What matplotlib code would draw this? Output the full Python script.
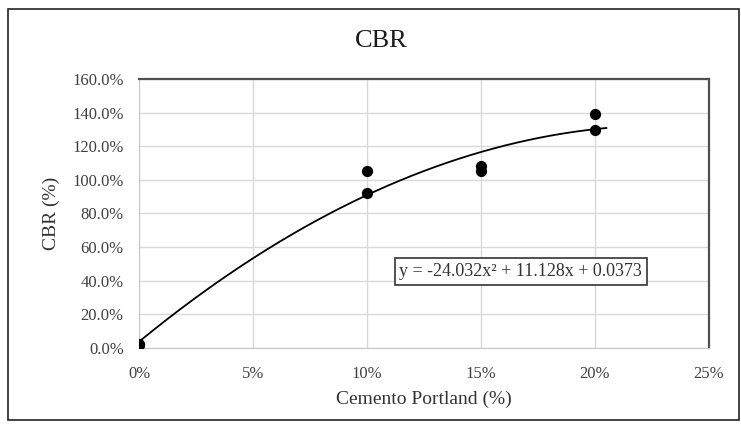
"""CBR vs Portland cement content, with quadratic trend line."""

import matplotlib

matplotlib.use("Agg")
import matplotlib.pyplot as plt
import numpy as np
from matplotlib.patches import Rectangle
from matplotlib.ticker import PercentFormatter

# Measured points (fractions)
cement = [0.0, 0.0, 0.10, 0.10, 0.15, 0.15, 0.20, 0.20]
cbr = [0.02, 0.025, 1.05, 0.92, 1.08, 1.05, 1.39, 1.295]

# Trend line coefficients shown on the chart (a x^2 + b x + c)
coeffs = [-24.032, 11.128, 0.0373]
trend_range = [0.0, 0.205]
equation = "y = -24.032x² + 11.128x + 0.0373"

x_ticks = [0.0, 0.05, 0.10, 0.15, 0.20, 0.25]
y_ticks = [0.0, 0.2, 0.4, 0.6, 0.8, 1.0, 1.2, 1.4, 1.6]

plt.rcParams["font.family"] = ["Liberation Serif", "DejaVu Serif"]

fig = plt.figure(figsize=(7.41, 4.30), dpi=100)
fig.patches.append(
    Rectangle((0.011, 0.023), 0.986, 0.955, transform=fig.transFigure,
              fill=False, edgecolor="#222222", linewidth=1.2)
)
ax = fig.add_axes([0.1876, 0.1907, 0.7692, 0.6256])

xs = np.linspace(trend_range[0], trend_range[1], 200)
ax.plot(xs, np.polyval(coeffs, xs), color="black", linewidth=1.3, zorder=3)
ax.scatter(cement, cbr, s=50, color="black", zorder=4)

ax.set_xlim(0, 0.25)
ax.set_ylim(0, 1.6)
ax.set_xticks(x_ticks)
ax.set_yticks(y_ticks)
ax.xaxis.set_major_formatter(PercentFormatter(xmax=1, decimals=0))
ax.yaxis.set_major_formatter(PercentFormatter(xmax=1, decimals=1))
ax.tick_params(length=0, labelsize=12, colors="#404040")
ax.tick_params(axis="x", pad=13)
ax.tick_params(axis="y", pad=11)
ax.grid(True, color="#d9d9d9", linewidth=1)
ax.set_axisbelow(True)

for side in ["left", "bottom"]:
    ax.spines[side].set_color("#c8c8c8")
for side in ["top", "right"]:
    ax.spines[side].set_color("#505050")
    ax.spines[side].set_linewidth(1.6)

fig.text(381 / 741, 1 - 41 / 430, "CBR", fontsize=19, color="#1a1a1a",
         ha="center", va="center")
ax.set_xlabel("Cemento Portland (%)", fontsize=14, color="#333333", labelpad=6)
ax.set_ylabel("CBR (%)", fontsize=14, color="#333333", labelpad=9)

ax.text(0.1675, 0.455, equation, fontsize=13, color="#333333",
        ha="center", va="center", zorder=5,
        bbox=dict(boxstyle="square,pad=0.25", facecolor="white",
                  edgecolor="#333333", linewidth=1.2))

fig.savefig("out.png", dpi=100)
